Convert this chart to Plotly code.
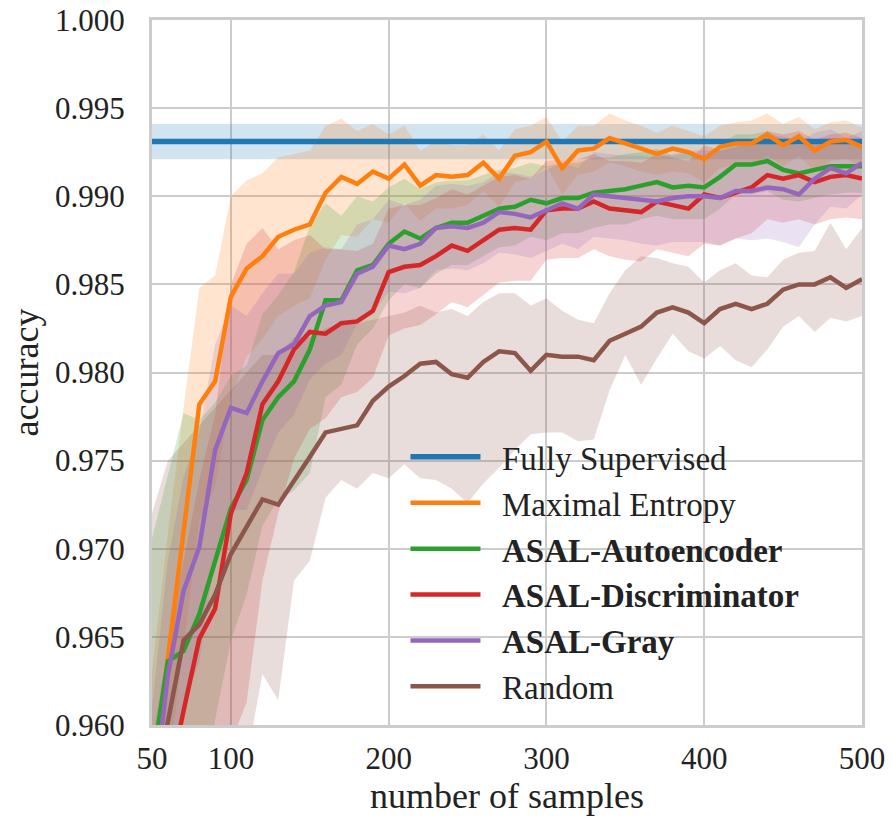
import plotly.graph_objects as go

samples = [50, 60, 70, 80, 90, 100, 110, 120, 130, 140, 150, 160, 170, 180, 190, 200,
           210, 220, 230, 240, 250, 260, 270, 280, 290, 300, 310, 320, 330, 340, 350,
           360, 370, 380, 390, 400, 410, 420, 430, 440, 450, 460, 470, 480, 490, 500]

fully_supervised_mean = 0.9931
fully_supervised_sd = 0.0010

max_entropy = [0.9565, 0.9638, 0.9710, 0.9782, 0.9795, 0.9843, 0.9859, 0.9866, 0.9877, 0.9881,
               0.9884, 0.9902, 0.9911, 0.9907, 0.9914, 0.9910, 0.9918, 0.9906, 0.9912, 0.9911,
               0.9912, 0.9919, 0.9910, 0.9923, 0.9925, 0.9931, 0.9916, 0.9926, 0.9927, 0.9933,
               0.9930, 0.9927, 0.9924, 0.9927, 0.9925, 0.9921, 0.9928, 0.9930, 0.9930, 0.9935,
               0.9929, 0.9934, 0.9926, 0.9931, 0.9932, 0.9928]
max_entropy_sd = [0.0065, 0.0070, 0.0070, 0.0066, 0.0060, 0.0057, 0.0050, 0.0047, 0.0045, 0.0043,
                  0.0042, 0.0038, 0.0033, 0.0030, 0.0027, 0.0025, 0.0022, 0.0020, 0.0019, 0.0018,
                  0.0017, 0.0016, 0.0016, 0.0015, 0.0015, 0.0014, 0.0015, 0.0014, 0.0013, 0.0014,
                  0.0013, 0.0013, 0.0012, 0.0013, 0.0012, 0.0013, 0.0012, 0.0012, 0.0013, 0.0012,
                  0.0012, 0.0011, 0.0012, 0.0011, 0.0011, 0.0011]

asal_autoencoder = [0.9576, 0.9636, 0.9642, 0.9663, 0.9693, 0.9723, 0.9739, 0.9773, 0.9786, 0.9795,
                    0.9813, 0.9841, 0.9841, 0.9858, 0.9861, 0.9873, 0.9880, 0.9876, 0.9882, 0.9885,
                    0.9885, 0.9889, 0.9893, 0.9894, 0.9898, 0.9896, 0.9899, 0.9899, 0.9902, 0.9903,
                    0.9904, 0.9906, 0.9908, 0.9905, 0.9906, 0.9905, 0.9911, 0.9918, 0.9918, 0.9920,
                    0.9915, 0.9913, 0.9915, 0.9917, 0.9917, 0.9917]
asal_autoencoder_sd = [0.0130, 0.0105, 0.0135, 0.0110, 0.0090, 0.0075, 0.0065, 0.0060, 0.0058, 0.0062,
                       0.0070, 0.0055, 0.0048, 0.0042, 0.0036, 0.0032, 0.0030, 0.0028, 0.0026, 0.0024,
                       0.0024, 0.0023, 0.0022, 0.0022, 0.0021, 0.0021, 0.0020, 0.0020, 0.0020, 0.0019,
                       0.0020, 0.0019, 0.0019, 0.0018, 0.0019, 0.0018, 0.0018, 0.0017, 0.0017, 0.0017,
                       0.0017, 0.0016, 0.0016, 0.0016, 0.0015, 0.0015]

asal_discriminator = [0.9510, 0.9565, 0.9608, 0.9649, 0.9666, 0.9720, 0.9743, 0.9782, 0.9795, 0.9813,
                      0.9823, 0.9822, 0.9828, 0.9829, 0.9835, 0.9857, 0.9860, 0.9861, 0.9866, 0.9872,
                      0.9869, 0.9875, 0.9881, 0.9882, 0.9881, 0.9892, 0.9893, 0.9893, 0.9897, 0.9893,
                      0.9892, 0.9891, 0.9897, 0.9895, 0.9893, 0.9901, 0.9899, 0.9902, 0.9905, 0.9912,
                      0.9910, 0.9912, 0.9908, 0.9911, 0.9912, 0.9910]
asal_discriminator_sd = [0.0080, 0.0080, 0.0085, 0.0090, 0.0110, 0.0130, 0.0130, 0.0100, 0.0075, 0.0062,
                         0.0055, 0.0048, 0.0042, 0.0040, 0.0038, 0.0036, 0.0035, 0.0034, 0.0033, 0.0032,
                         0.0032, 0.0031, 0.0030, 0.0030, 0.0029, 0.0028, 0.0028, 0.0028, 0.0027, 0.0027,
                         0.0028, 0.0028, 0.0027, 0.0027, 0.0027, 0.0028, 0.0027, 0.0026, 0.0026, 0.0025,
                         0.0025, 0.0025, 0.0024, 0.0024, 0.0024, 0.0023]

asal_gray = [0.9550, 0.9628, 0.9676, 0.9701, 0.9756, 0.9780, 0.9777, 0.9795, 0.9811, 0.9816,
             0.9832, 0.9838, 0.9840, 0.9856, 0.9860, 0.9872, 0.9870, 0.9873, 0.9882, 0.9883,
             0.9882, 0.9885, 0.9891, 0.9890, 0.9888, 0.9892, 0.9896, 0.9893, 0.9901, 0.9900,
             0.9899, 0.9898, 0.9897, 0.9899, 0.9900, 0.9900, 0.9899, 0.9903, 0.9903, 0.9905,
             0.9904, 0.9901, 0.9910, 0.9916, 0.9913, 0.9919]
asal_gray_sd = [0.0060, 0.0065, 0.0065, 0.0065, 0.0060, 0.0058, 0.0055, 0.0050, 0.0045, 0.0040,
                0.0036, 0.0033, 0.0030, 0.0028, 0.0027, 0.0026, 0.0025, 0.0025, 0.0024, 0.0024,
                0.0024, 0.0023, 0.0023, 0.0023, 0.0023, 0.0023, 0.0023, 0.0023, 0.0024, 0.0024,
                0.0024, 0.0025, 0.0025, 0.0025, 0.0026, 0.0026, 0.0027, 0.0027, 0.0028, 0.0029,
                0.0030, 0.0030, 0.0026, 0.0022, 0.0020, 0.0018]

random_sel = [0.9555, 0.9603, 0.9648, 0.9657, 0.9674, 0.9697, 0.9713, 0.9728, 0.9725, 0.9738,
              0.9752, 0.9766, 0.9768, 0.9770, 0.9784, 0.9792, 0.9798, 0.9805, 0.9806, 0.9799,
              0.9797, 0.9806, 0.9812, 0.9811, 0.9801, 0.9810, 0.9809, 0.9809, 0.9807, 0.9818,
              0.9822, 0.9826, 0.9834, 0.9837, 0.9834, 0.9828, 0.9836, 0.9839, 0.9836, 0.9839,
              0.9847, 0.9850, 0.9850, 0.9854, 0.9848, 0.9853]
random_low = [0.9450, 0.9480, 0.9500, 0.9500, 0.9520, 0.9550, 0.9580, 0.9629, 0.9614, 0.9682,
              0.9693, 0.9729, 0.9739, 0.9734, 0.9743, 0.9740, 0.9748, 0.9740, 0.9739, 0.9734,
              0.9726, 0.9737, 0.9746, 0.9756, 0.9765, 0.9766, 0.9766, 0.9761, 0.9762, 0.9790,
              0.9810, 0.9793, 0.9808, 0.9822, 0.9812, 0.9808, 0.9815, 0.9807, 0.9803, 0.9813,
              0.9826, 0.9832, 0.9823, 0.9831, 0.9829, 0.9832]
random_high = [0.9720, 0.9750, 0.9760, 0.9770, 0.9780, 0.9790, 0.9800, 0.9810, 0.9810, 0.9820,
               0.9820, 0.9825, 0.9828, 0.9828, 0.9830, 0.9832, 0.9834, 0.9838, 0.9834, 0.9836,
               0.9832, 0.9840, 0.9845, 0.9845, 0.9838, 0.9842, 0.9835, 0.9830, 0.9828, 0.9845,
               0.9858, 0.9866, 0.9865, 0.9862, 0.9860, 0.9851, 0.9858, 0.9862, 0.9855, 0.9854,
               0.9864, 0.9868, 0.9869, 0.9885, 0.9870, 0.9882]

x_ticks = [50, 100, 200, 300, 400, 500]
y_ticks = [0.960, 0.965, 0.970, 0.975, 0.980, 0.985, 0.990, 0.995, 1.000]

colors = {
    "blue": (31, 119, 180),
    "orange": (255, 127, 14),
    "green": (44, 160, 44),
    "red": (214, 39, 40),
    "purple": (148, 103, 189),
    "brown": (140, 86, 75),
}

def rgba(c, a):
    return "rgba(%d,%d,%d,%s)" % (c[0], c[1], c[2], a)

fig = go.Figure()

fs_line = [fully_supervised_mean for _ in samples]
fs_low = [fully_supervised_mean - fully_supervised_sd for _ in samples]
fs_high = [fully_supervised_mean + fully_supervised_sd for _ in samples]

sp = "\u2002"
series = [
    (sp + "Fully Supervised", "blue", fs_line, fs_low, fs_high, 5.5),
    (sp + "Maximal Entropy", "orange", max_entropy,
     [m - s for m, s in zip(max_entropy, max_entropy_sd)],
     [m + s for m, s in zip(max_entropy, max_entropy_sd)], 4.5),
    (sp + "<b>ASAL-Autoencoder</b>", "green", asal_autoencoder,
     [m - s for m, s in zip(asal_autoencoder, asal_autoencoder_sd)],
     [m + s for m, s in zip(asal_autoencoder, asal_autoencoder_sd)], 4.5),
    (sp + "<b>ASAL-Discriminator</b>", "red", asal_discriminator,
     [m - s for m, s in zip(asal_discriminator, asal_discriminator_sd)],
     [m + s for m, s in zip(asal_discriminator, asal_discriminator_sd)], 4.5),
    (sp + "<b>ASAL-Gray</b>", "purple", asal_gray,
     [m - s for m, s in zip(asal_gray, asal_gray_sd)],
     [m + s for m, s in zip(asal_gray, asal_gray_sd)], 4.5),
    (sp + "Random", "brown", random_sel, random_low, random_high, 4.5),
]

# bands first (below all lines)
for name, cname, mean, lo, hi, w in series:
    fig.add_trace(go.Scatter(
        x=samples + samples[::-1], y=hi + lo[::-1],
        fill="toself", fillcolor=rgba(colors[cname], 0.2),
        line=dict(width=0), mode="lines", hoverinfo="skip", showlegend=False))

for name, cname, mean, lo, hi, w in series:
    fig.add_trace(go.Scatter(
        x=samples, y=mean, mode="lines", name=name,
        line=dict(color=rgba(colors[cname], 1), width=w)))

font_family = "Liberation Serif"
fig.update_layout(
    width=892, height=820,
    margin=dict(l=152, r=30, t=20, b=95),
    paper_bgcolor="white", plot_bgcolor="white",
    font=dict(family=font_family, color="#222222", size=31),
    legend=dict(
        x=0.357, y=0.42, xanchor="left", yanchor="top",
        bgcolor="rgba(0,0,0,0)", font=dict(size=33, family=font_family, color="#222222"),
        itemwidth=70, tracegroupgap=0),
    showlegend=True,
)
fig.update_xaxes(
    range=[50, 500], tickvals=x_ticks, ticktext=[str(v) for v in x_ticks],
    showgrid=True, gridcolor="#cccccc", gridwidth=2,
    showline=True, linecolor="#cccccc", linewidth=3, mirror=True,
    zeroline=False, ticks="", ticklabelstandoff=4, automargin=False,
    ticklabeloverflow="allow",
    tickfont=dict(size=31, family=font_family),
    title=dict(text="number of samples", font=dict(size=36, family=font_family), standoff=8),
)
fig.update_yaxes(
    range=[0.960, 1.000], tickvals=y_ticks, ticktext=["%.3f" % v for v in y_ticks],
    showgrid=True, gridcolor="#cccccc", gridwidth=2,
    showline=True, linecolor="#cccccc", linewidth=3, mirror=True,
    zeroline=False, ticks="", ticklabelstandoff=18, automargin=False,
    ticklabeloverflow="allow",
    tickfont=dict(size=31, family=font_family),
    title=dict(text="accuracy", font=dict(size=36, family=font_family), standoff=6),
)

# remove the default 8px page margin so the figure fills the window exactly
fig.write_html("out.html", config={"displayModeBar": False},
               post_script="document.body.style.margin='0';")
